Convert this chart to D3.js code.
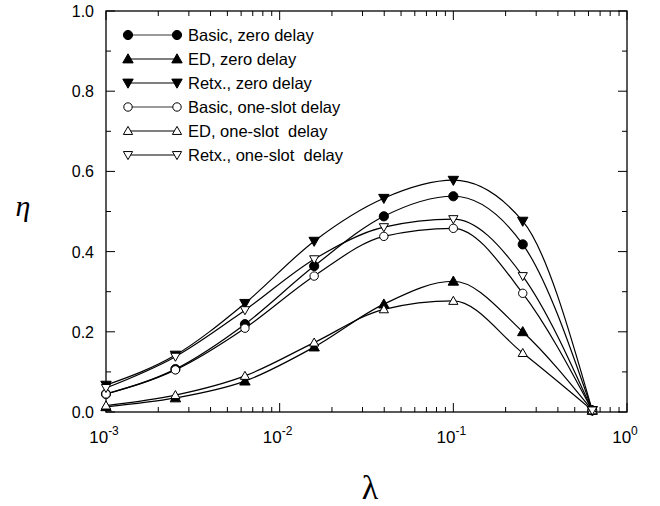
<!DOCTYPE html>
<html>
<head>
<meta charset="utf-8">
<script src="https://cdn.jsdelivr.net/npm/d3@7"></script>
<style>
  body { margin: 0; background: #fff; }
  svg { font-family: "Liberation Sans", Arial, Helvetica, sans-serif; }
</style>
</head>
<body>
<svg id="chart" width="660" height="506"></svg>
<script>
// lambda values where the markers sit
var lambdas = [0.001, 0.00251, 0.00631, 0.0158, 0.0398, 0.1, 0.251, 0.631];

var basicZero = [0.045, 0.107, 0.219, 0.364, 0.488, 0.538, 0.418, 0.004];
var edZero    = [0.013, 0.035, 0.077, 0.162, 0.269, 0.326, 0.200, 0.004];
var retxZero  = [0.067, 0.142, 0.271, 0.426, 0.533, 0.578, 0.476, 0.004];
var basicOne  = [0.045, 0.105, 0.209, 0.339, 0.438, 0.458, 0.296, 0.004];
var edOne     = [0.016, 0.042, 0.090, 0.173, 0.256, 0.277, 0.147, 0.004];
var retxOne   = [0.060, 0.138, 0.254, 0.381, 0.461, 0.481, 0.339, 0.004];

var seriesNames = ["Basic, zero delay", "ED, zero delay", "Retx., zero delay",
                   "Basic, one-slot delay", "ED, one-slot  delay", "Retx., one-slot  delay"];
var seriesValues = [basicZero, edZero, retxZero, basicOne, edOne, retxOne];
var seriesMarkers = ["circle", "up", "down", "circle", "up", "down"];
var seriesFilled = [true, true, true, false, false, false];

var yTicks = [0.0, 0.2, 0.4, 0.6, 0.8, 1.0];
var xDecades = [1e-3, 1e-2, 1e-1, 1e0];
var xExponents = ["-3", "-2", "-1", "0"];

(function() {
    var svg = d3.select("#chart"),
        pLeft = 106, pRight = 627, pTop = 11, pBottom = 412;

    var x = d3.scaleLog().domain([1e-3, 1]).range([pLeft, pRight]);
    var y = d3.scaleLinear().domain([0, 1]).range([pBottom, pTop]);

    // frame
    svg.append("rect")
        .attr("x", pLeft).attr("y", pTop)
        .attr("width", pRight - pLeft).attr("height", pBottom - pTop)
        .attr("fill", "none").attr("stroke", "#000").attr("stroke-width", 1.3);

    // minor + major ticks, pointing inwards on all sides
    var xMinor = [];
    xDecades.slice(0, 3).forEach(function(d) {
        for (var k = 2; k <= 9; k++) xMinor.push(d * k);
    });
    var g = svg.append("g");
    xMinor.forEach(function(v) {
        g.append("line").attr("x1", x(v)).attr("x2", x(v)).attr("y1", pBottom).attr("y2", pBottom - 5);
        g.append("line").attr("x1", x(v)).attr("x2", x(v)).attr("y1", pTop).attr("y2", pTop + 5);
    });
    xDecades.forEach(function(v) {
        g.append("line").attr("x1", x(v)).attr("x2", x(v)).attr("y1", pBottom).attr("y2", pBottom - 9);
        g.append("line").attr("x1", x(v)).attr("x2", x(v)).attr("y1", pTop).attr("y2", pTop + 9);
    });
    d3.range(0, 1.001, 0.1).forEach(function(v, i) {
        var len = i % 2 === 0 ? 9 : 5;
        g.append("line").attr("x1", pLeft).attr("x2", pLeft + len).attr("y1", y(v)).attr("y2", y(v));
        g.append("line").attr("x1", pRight).attr("x2", pRight - len).attr("y1", y(v)).attr("y2", y(v));
    });
    g.selectAll("line").attr("stroke", "#000").attr("stroke-width", 1);

    // y tick labels
    svg.selectAll(".ylab").data(yTicks).enter().append("text")
        .attr("x", pLeft - 12).attr("y", function(d) { return y(d) + 6; })
        .attr("text-anchor", "end").attr("font-size", 16)
        .text(function(d) { return d.toFixed(1); });

    // x tick labels 10^n
    xDecades.forEach(function(v, i) {
        var t = svg.append("text").attr("x", x(v) - 2).attr("y", pBottom + 31)
            .attr("text-anchor", "middle").attr("font-size", 17);
        t.append("tspan").text("10");
        t.append("tspan").attr("dy", -8).attr("font-size", 12).text(xExponents[i]);
    });

    // axis titles
    svg.append("text").attr("x", 23).attr("y", 216)
        .attr("font-family", "'Liberation Serif', serif").attr("font-style", "italic")
        .attr("font-size", 30).attr("text-anchor", "middle").text("η");
    svg.append("text").attr("x", 370).attr("y", 499)
        .attr("font-family", "'Liberation Serif', serif")
        .attr("font-size", 34).attr("text-anchor", "middle").text("λ");

    // markers
    function drawMarker(sel, kind, filled, cx, cy) {
        var m;
        if (kind === "circle") {
            m = sel.append("circle").attr("cx", cx).attr("cy", cy).attr("r", filled ? 4.6 : 4.2);
        } else {
            var s = filled ? 5.2 : 4.6, dir = kind === "up" ? 1 : -1;
            var pts = [[cx, cy - dir * s], [cx - s, cy + dir * s * 0.75], [cx + s, cy + dir * s * 0.75]];
            m = sel.append("path").attr("d", "M" + pts.join("L") + "Z");
        }
        m.attr("fill", filled ? "#000" : "#fff").attr("stroke", "#000").attr("stroke-width", 1);
    }

    var line = d3.line()
        .x(function(d, i) { return x(lambdas[i]); })
        .y(function(d) { return y(d); })
        .curve(d3.curveMonotoneX);

    seriesValues.forEach(function(vals) {
        svg.append("path").attr("d", line(vals))
            .attr("fill", "none").attr("stroke", "#000").attr("stroke-width", 1.2);
    });
    seriesValues.forEach(function(vals, s) {
        var mg = svg.append("g");
        vals.forEach(function(v, i) {
            drawMarker(mg, seriesMarkers[s], seriesFilled[s], x(lambdas[i]), y(v));
        });
    });

    // legend
    var lg = svg.append("g");
    seriesNames.forEach(function(name, i) {
        var ly = 35 + i * 24;
        lg.append("line").attr("x1", 128).attr("x2", 177).attr("y1", ly).attr("y2", ly)
            .attr("stroke", "#000").attr("stroke-width", i === 0 || i === 3 ? 0.8 : 1.2);
        drawMarker(lg, seriesMarkers[i], seriesFilled[i], 128, ly);
        drawMarker(lg, seriesMarkers[i], seriesFilled[i], 177, ly);
        lg.append("text").attr("x", 188).attr("y", ly + 6).attr("font-size", 16.5)
            .style("white-space", "pre").text(name);
    });
}());
</script>
</body>
</html>
